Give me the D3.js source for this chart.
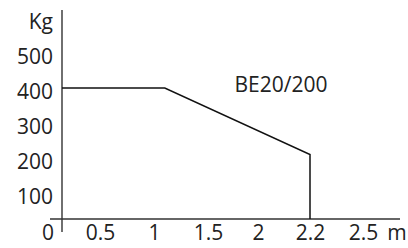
<!DOCTYPE html>
<html>
  <head>
    <style>
      body { margin: 0; background: #fff; }
      text { font-family: "Open Sans", sans-serif; fill: #222; }
    </style>
  </head>
  <body>
    <svg class="chart"></svg>
    <script src="https://d3js.org/d3.v7.min.js"></script>
    <script>

// data
var xTicks = [0.5, 1, 1.5, 2, 2.2, 2.5]
var yTicks = [100, 200, 300, 400, 500]
var loadX = [0, 1.1, 2.2]      // reach, m
var loadY = [400, 400, 210]    // capacity, kg
var seriesName = "BE20/200"

var width = 408
var height = 248
var fontSize = 21

var svg = d3.select(".chart")
    .attr("width", width)
    .attr("height", height)

// the drawing's reach axis is not evenly spaced, so use a piecewise scale
var x = d3.scaleLinear()
    .domain([0, 0.5, 1, 1.5, 2, 2.2, 2.5])
    .range([62, 100, 154, 208, 258, 310, 363])

var y = d3.scaleLinear()
    .domain([0, 500])
    .range([228, 53])

var baseY = 219   // where the reach axis is drawn

// axis lines
svg.append("line")
    .attr("x1", x(0)).attr("x2", x(0))
    .attr("y1", 10).attr("y2", 232)
    .attr("stroke", "#333").attr("stroke-width", 1.4)

svg.append("line")
    .attr("x1", 50).attr("x2", 400)
    .attr("y1", baseY).attr("y2", baseY)
    .attr("stroke", "#333").attr("stroke-width", 1.4)

// y labels
var yAxis = svg.append("g")
    .attr("transform", "translate(" + (x(0) - 9) + ",4)")
    .call(d3.axisLeft(y).tickValues(yTicks).tickSize(0).tickPadding(0))
yAxis.select(".domain").remove()
yAxis.selectAll("text")
    .attr("font-size", fontSize)
    .attr("font-family", "Open Sans, sans-serif")
    .attr("fill", "#222")

svg.append("text")
    .attr("x", x(0) - 9).attr("y", 22)
    .attr("dy", "0.35em")
    .attr("text-anchor", "end")
    .attr("font-size", fontSize)
    .text("Kg")

// x labels
var xAxis = svg.append("g")
    .attr("transform", "translate(0," + (baseY + 6) + ")")
    .call(d3.axisBottom(x).tickValues(xTicks).tickSize(0).tickPadding(0)
        .tickFormat(function(d) { return String(d) }))
xAxis.select(".domain").remove()
xAxis.selectAll("text")
    .attr("font-size", fontSize)
    .attr("font-family", "Open Sans, sans-serif")
    .attr("fill", "#222")

svg.append("text")
    .attr("x", 48).attr("y", baseY + 6)
    .attr("dy", "0.71em")
    .attr("text-anchor", "middle")
    .attr("font-size", fontSize)
    .text("0")

svg.append("text")
    .attr("x", 397).attr("y", baseY + 6)
    .attr("dy", "0.71em")
    .attr("text-anchor", "middle")
    .attr("font-size", fontSize)
    .text("m")

// load curve, dropping to the axis at full reach
var pts = loadX.map(function(d, i) { return [x(d), y(loadY[i])] })
pts.push([x(loadX[loadX.length - 1]), baseY])

svg.append("path")
    .attr("d", d3.line()(pts))
    .attr("fill", "none")
    .attr("stroke", "#111")
    .attr("stroke-width", 1.5)

svg.append("text")
    .attr("x", 281).attr("y", 85)
    .attr("dy", "0.35em")
    .attr("text-anchor", "middle")
    .attr("font-size", fontSize)
    .text(seriesName)

    </script>
  </body>
</html>
